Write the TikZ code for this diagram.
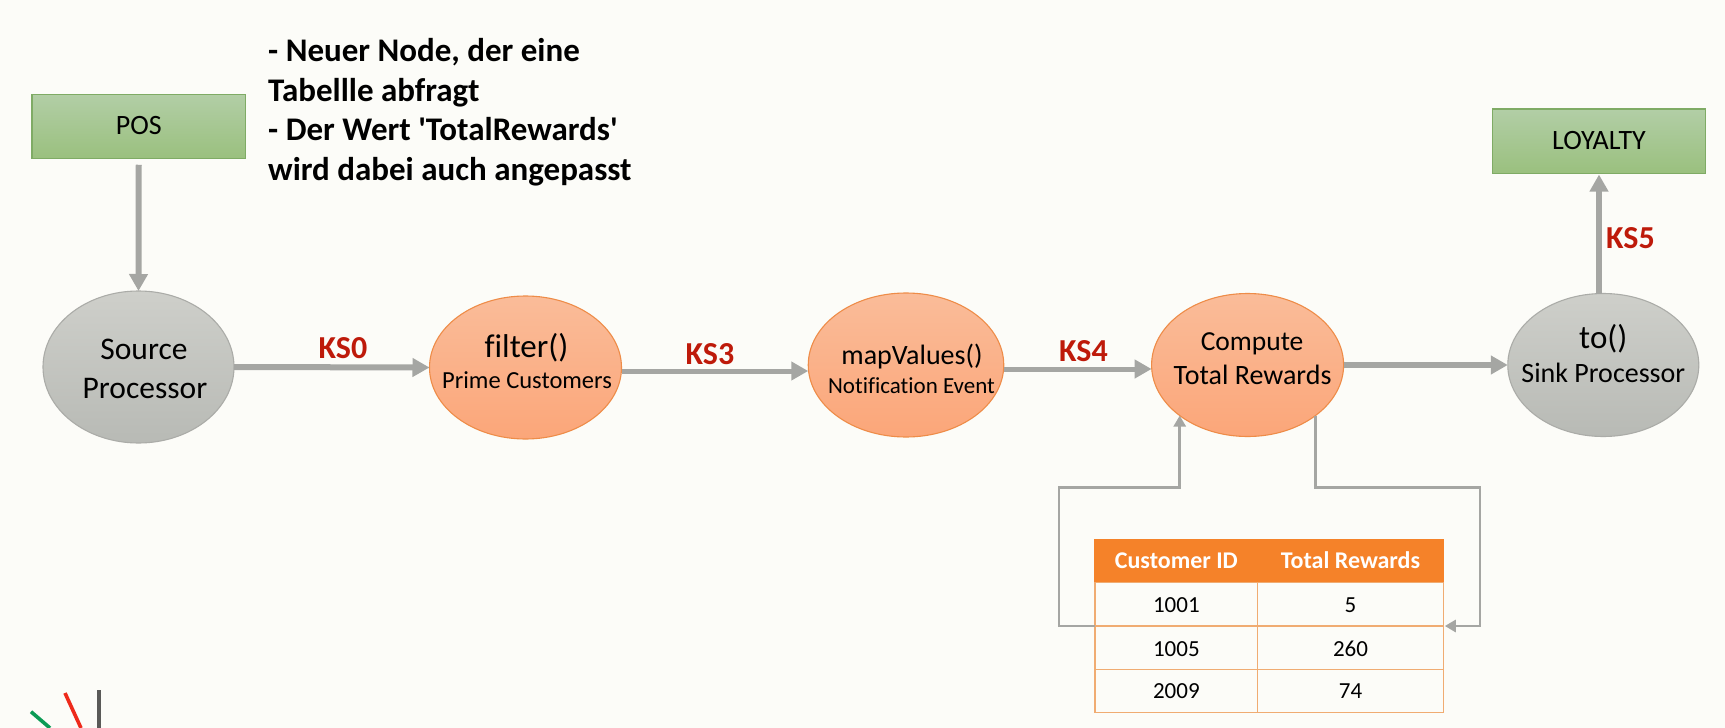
\documentclass[tikz,border=0pt]{standalone}
\usepackage{fontspec}
\setmainfont[Ligatures={TeXOff,NoCommon}]{Carlito}
\usetikzlibrary{arrows.meta,calc,shapes.geometric}
\definecolor{bgc}{HTML}{FCFCF8}
\definecolor{linec}{HTML}{A5A6A3}
\definecolor{ksred}{HTML}{BE1A0A}
\definecolor{tblor}{HTML}{F58229}
\definecolor{tblln}{HTML}{F0AC72}
\newcommand\placed[4]{\hbox to 0pt{\kern#1pt\hbox to 0pt{\hss\smash{\raisebox{-#2pt}{\fontsize{#3}{#3}\selectfont #4}}\hss}\hss}}
\tikzset{
  x=1pt,y=-1pt,
  box/.style={rectangle,draw=#1,line width=1.2pt,inner sep=0pt,outer sep=0pt,minimum width=213.5pt,minimum height=64.5pt,top color=boxtop,bottom color=boxbot},
  ell/.style={ellipse,inner sep=0pt,outer sep=0pt,line width=1.1pt},
  grayell/.style={ell,draw=grayln,top color=graytop,bottom color=graybot,minimum width=191pt,minimum height=152pt},
  orell/.style={ell,draw=orln,top color=ortop,bottom color=orbot,minimum width=192pt,minimum height=143pt},
  thick arrow/.style={draw=linec,line width=6pt,-{Triangle[length=17pt,width=18pt]}},
  mid arrow/.style={draw=linec,line width=5pt,-{Triangle[length=17pt,width=18pt]}},
  thin arrow/.style={draw=linec,line width=2.8pt,-{Triangle[length=11pt,width=12pt]}},
  kslabel/.style={anchor=base,inner sep=0pt,text=ksred,font=\fontsize{32}{32}\selectfont\bfseries},
  cell/.style={rectangle,draw=tblln,line width=1.2pt,inner sep=0pt,outer sep=0pt,minimum height=43.2pt},
  headcell/.style={rectangle,draw=tblor,fill=tblor,line width=1.2pt,inner sep=0pt,outer sep=0pt,minimum height=43.4pt},
  logoline/.style={line width=3.6pt,line cap=butt},
}
\definecolor{boxtop}{HTML}{B2CEA6}
\definecolor{boxbot}{HTML}{9AC07E}
\definecolor{graytop}{HTML}{CECFCA}
\definecolor{graybot}{HTML}{B8BAB5}
\definecolor{grayln}{HTML}{ABACA8}
\definecolor{ortop}{HTML}{FABC99}
\definecolor{orbot}{HTML}{FBA679}
\definecolor{orln}{HTML}{EE8C48}
\definecolor{boxln}{HTML}{7FAB65}
\definecolor{logog}{HTML}{0B9B55}
\definecolor{logor}{HTML}{EE2A1B}
\definecolor{logok}{HTML}{5A5A58}
\begin{document}
\begin{tikzpicture}
\useasboundingbox (0,0) rectangle (1725,728);
\fill[bgc] (0,0) rectangle (1725,728);

% description
\node[anchor=north west,inner sep=0pt,align=left,font=\fontsize{33}{39.7}\selectfont\bfseries] (note) at (268,38)
  {- Neuer Node, der eine\\Tabellle abfragt\\- Der Wert 'TotalRewards'\\wird dabei auch angepasst};

% topics
\node[box=boxln] (pos) at (138.75,126.5) {\placed{0}{8}{28}{POS}};
\node[box=boxln] (loy) at (1599,141.3) {\placed{0}{7.7}{28}{LOYALTY}};

% processors
\node[grayell] (src) at (138.5,367) {\placed{5.5}{-8}{31.5}{Source}\placed{6.5}{31}{31.5}{Processor}};
\node[orell] (fil) at (525.5,367.5) {\placed{1}{-10.5}{33}{filter()}\placed{1.5}{20.5}{24.5}{Prime Customers}};
\node[orell,minimum width=195.5pt,minimum height=144pt] (map) at (906,365) {\placed{6}{-1}{28}{mapValues()}\placed{5.5}{28}{23}{Notification Event}};
\node[orell] (cmp) at (1247.6,365) {\placed{4.5}{-15}{27.5}{Compute}\placed{5}{19}{28}{Total Rewards}};
\node[grayell,minimum height=143pt] (snk) at (1603.3,365) {\placed{0}{-16.5}{33}{to()}\placed{0}{17}{28}{Sink Processor}};

% table
\node[headcell,minimum width=162.7pt] (h1) at (1176.35,561) {\placed{0}{7}{24}{\bfseries\color{white}Customer ID}};
\node[headcell,minimum width=185.6pt] (h2) at (1350.5,561) {\placed{0}{7}{24}{\bfseries\color{white}Total Rewards}};
\node[cell,minimum width=162.7pt] (a1) at (1176.35,604.4) {\placed{0}{7.6}{23}{1001}};
\node[cell,minimum width=185.6pt] (a2) at (1350.5,604.4) {\placed{0}{7.6}{23}{5}};
\node[cell,minimum width=162.7pt] (b1) at (1176.35,647.5) {\placed{0}{8.5}{23}{1005}};
\node[cell,minimum width=185.6pt] (b2) at (1350.5,647.5) {\placed{0}{8.5}{23}{260}};
\node[cell,minimum width=162.7pt] (c1) at (1176.35,690.7) {\placed{0}{7.3}{23}{2009}};
\node[cell,minimum width=185.6pt] (c2) at (1350.5,690.7) {\placed{0}{7.3}{23}{74}};

% connectors
\draw[thick arrow] ([yshift=-6pt]pos.south) -- (src.north);
\draw[thick arrow] (src.east) -- (fil.west);
\draw[mid arrow] ([yshift=-3.5pt]fil.east) -- ([yshift=-6pt]map.west);
\draw[mid arrow] ([yshift=-4pt]map.east) -- ([yshift=-4pt]cmp.west);
\draw[thick arrow] (cmp.east) -- (snk.west);
\draw[thick arrow] (loy.south |- snk.north) -- ([yshift=-1pt]loy.south);

\coordinate (ll) at (1059,487.7);
\coordinate (rr) at (1480,487.7);
\draw[thin arrow] (a1.south west) -| (ll) -| (cmp.south west);
\draw[thin arrow] (cmp.south east) |- (rr) |- ([xshift=1.5pt]a2.south east);

% link labels
\node[kslabel] (ks0) at (343,358) {KS0};
\node[kslabel] (ks3) at (710,364) {KS3};
\node[kslabel] (ks4) at (1083.5,361) {KS4};
\node[kslabel] (ks5) at (1630.5,248) {KS5};

% logo fragment
\draw[logoline,draw=logog] (31,711.7) -- (50,728);
\draw[logoline,draw=logor] (65,693) -- (81,728);
\draw[logoline,draw=logok] (99,690) -- (99,728);
\end{tikzpicture}
\end{document}
